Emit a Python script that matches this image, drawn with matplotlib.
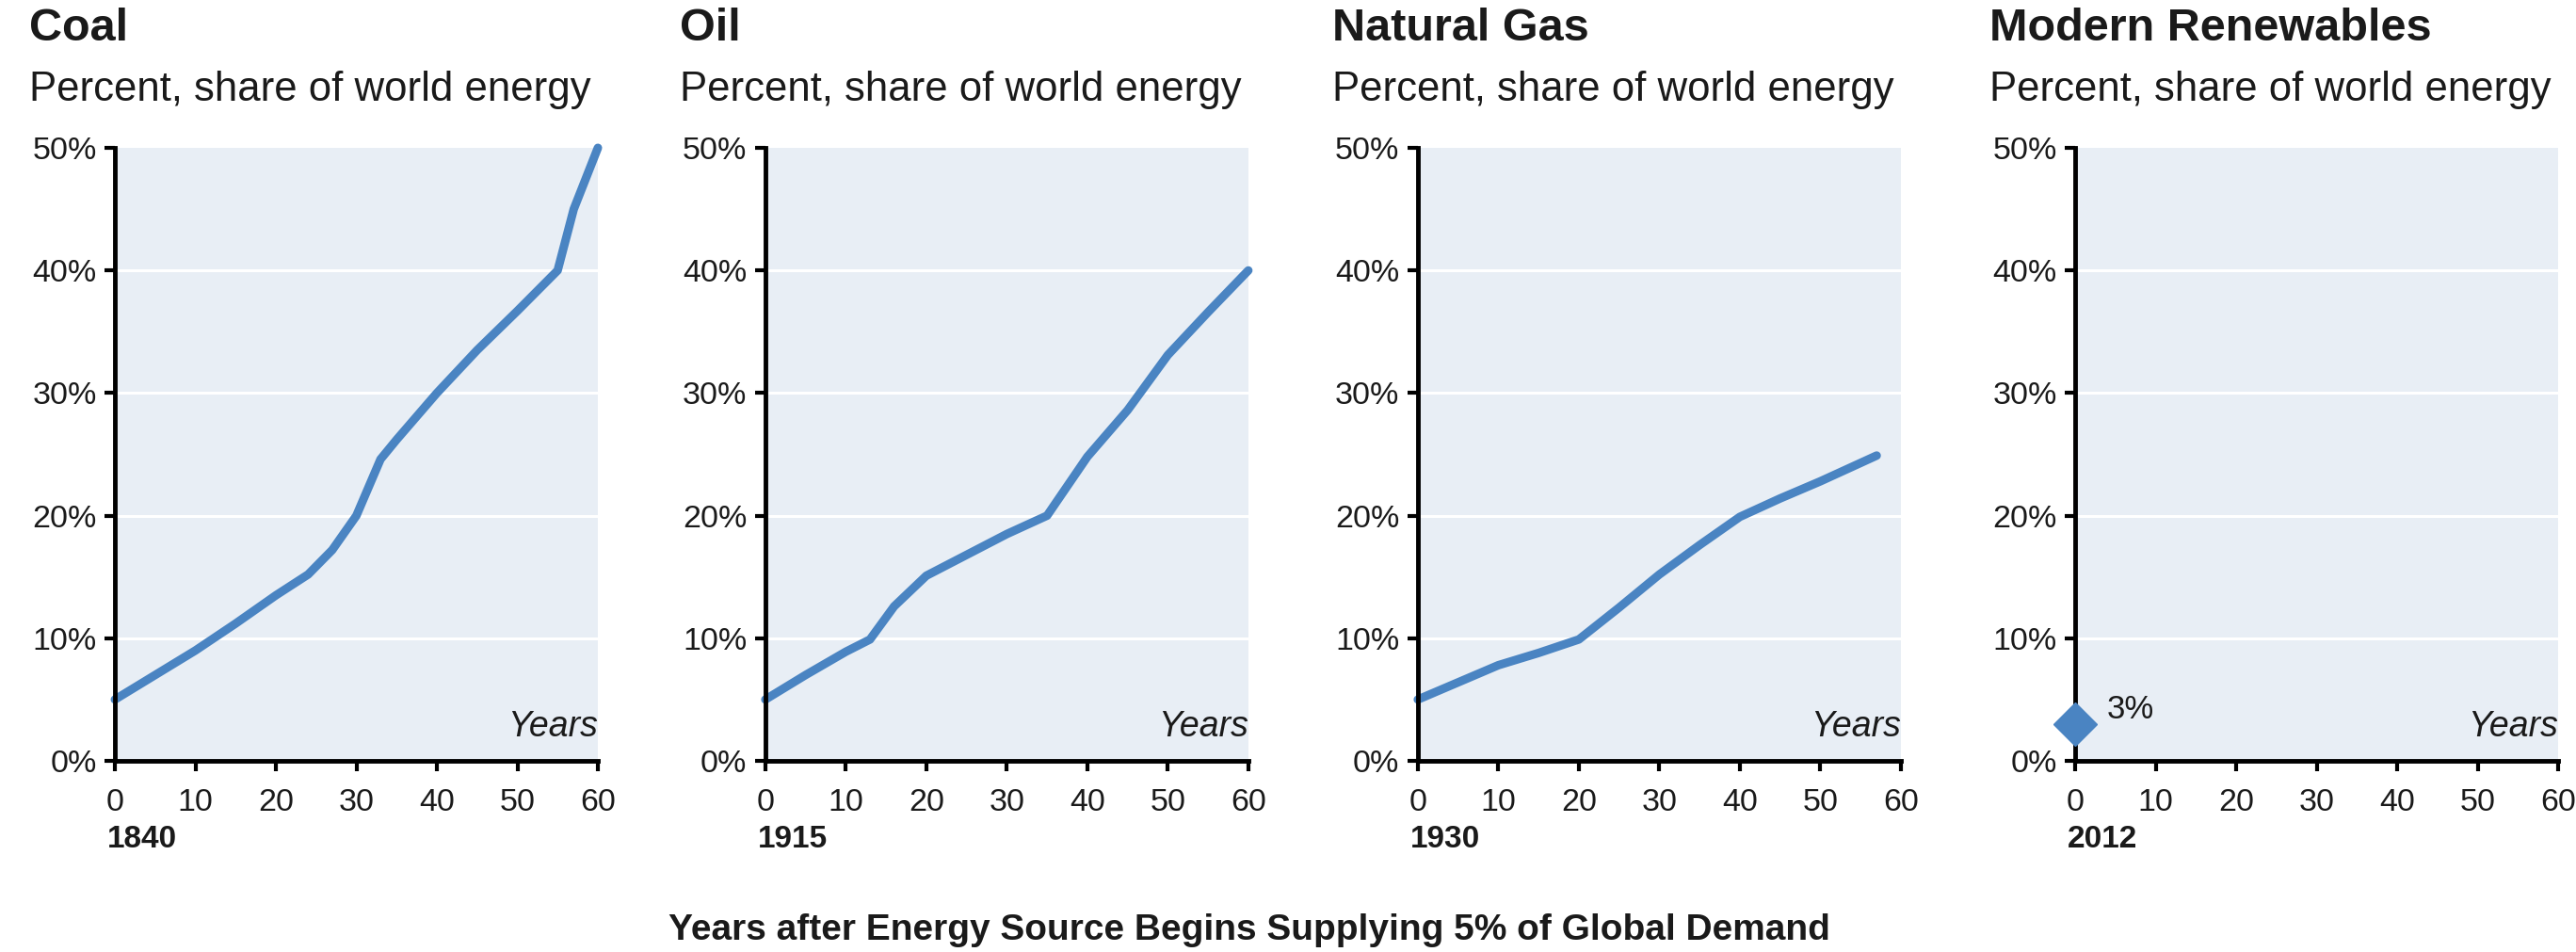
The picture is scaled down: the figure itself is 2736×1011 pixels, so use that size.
import matplotlib
matplotlib.use('Agg')
import matplotlib.pyplot as plt
from matplotlib.ticker import FuncFormatter

plt.rcParams['font.family'] = ['Liberation Sans', 'DejaVu Sans']

# Panel titles and start years
titles = ['Coal', 'Oil', 'Natural Gas', 'Modern Renewables']
start_years = ['1840', '1915', '1930', '2012']
subtitle = 'Percent, share of world energy'

# Years after the source reached 5% of global demand, and share (%)
coal_years = [0, 5, 10, 15, 20, 24, 27, 30, 33, 35, 40, 45, 50, 55, 57, 60]
coal_share = [5, 7, 9, 11.2, 13.5, 15.2, 17.2, 20, 24.6, 26.2, 30, 33.5, 36.7, 40, 45, 50]

oil_years = [0, 5, 10, 13, 16, 20, 25, 30, 35, 40, 45, 50, 55, 60]
oil_share = [5, 7, 8.9, 9.9, 12.6, 15.1, 16.8, 18.5, 20, 24.8, 28.6, 33.1, 36.6, 40]

gas_years = [0, 5, 10, 15, 20, 25, 30, 35, 40, 45, 50, 57]
gas_share = [5, 6.4, 7.8, 8.8, 9.9, 12.5, 15.2, 17.6, 19.9, 21.4, 22.8, 24.9]

renew_years = [0]
renew_share = [3]

series_years = [coal_years, oil_years, gas_years, renew_years]
series_share = [coal_share, oil_share, gas_share, renew_share]

bottom_label = 'Years after Energy Source Begins Supplying 5% of Global Demand'

line_color = '#4a84c2'
panel_color = '#e8eef5'
text_color = '#1a1a1a'


def style_axis(ax):
    ax.set_facecolor(panel_color)
    ax.set_xlim(0, 60)
    ax.set_ylim(0, 50)
    ax.set_xticks(range(0, 61, 10))
    ax.set_yticks(range(0, 51, 10))
    ax.yaxis.set_major_formatter(FuncFormatter(lambda v, pos: '%d%%' % v))
    # White horizontal gridlines
    for level in [10, 20, 30, 40]:
        ax.axhline(level, color='white', linewidth=2.2, zorder=1)
    for side in ['top', 'right']:
        ax.spines[side].set_visible(False)
    for side in ['left', 'bottom']:
        ax.spines[side].set_linewidth(3.5)
        ax.spines[side].set_color('black')
        ax.spines[side].set_zorder(4)
    ax.tick_params(axis='both', direction='out', length=8, width=3,
                   labelsize=24.5, labelcolor=text_color, color='black')
    ax.tick_params(axis='x', pad=13)
    ax.tick_params(axis='y', pad=6)
    ax.text(1.0, 0.055, 'Years', transform=ax.transAxes, ha='right', va='center',
            fontsize=27, style='italic', color=text_color)


def draw_chart():
    fig = plt.figure(figsize=(27.36, 10.11), dpi=100)
    lefts = [0.0446, 0.2971, 0.5504, 0.8056]

    for i in range(4):
        ax = fig.add_axes([lefts[i], 0.2008, 0.1875, 0.6439])
        style_axis(ax)

        if len(series_years[i]) > 1:
            ax.plot(series_years[i], series_share[i], color=line_color, linewidth=6.5,
                    solid_capstyle='round', solid_joinstyle='round', zorder=3, clip_on=False)
        else:
            ax.plot(series_years[i], series_share[i], marker='D', markersize=23,
                    color=line_color, linestyle='None', zorder=5, clip_on=False)
            ax.annotate('%d%%' % series_share[i][0], (series_years[i][0], series_share[i][0]),
                        xytext=(24, 11), textcoords='offset points', ha='left', va='center',
                        fontsize=25, color=text_color)

        # Title, subtitle and start year
        ax.text(-0.178, 1.194, titles[i], transform=ax.transAxes, ha='left', va='center',
                fontsize=35, fontweight='bold', color=text_color)
        ax.text(-0.178, 1.094, subtitle, transform=ax.transAxes, ha='left', va='center',
                fontsize=31.5, color=text_color)
        ax.annotate(start_years[i], (0, 0), xycoords=('data', 'axes fraction'),
                    xytext=(-6, -60), textcoords='offset points', ha='left', va='center',
                    fontsize=24, fontweight='bold', color=text_color, annotation_clip=False)

    fig.text(0.485, 0.023, bottom_label, ha='center', va='center',
             fontsize=28, fontweight='bold', color=text_color)

    fig.savefig('out.png', dpi=100, facecolor='white')


if __name__ == '__main__':
    draw_chart()
